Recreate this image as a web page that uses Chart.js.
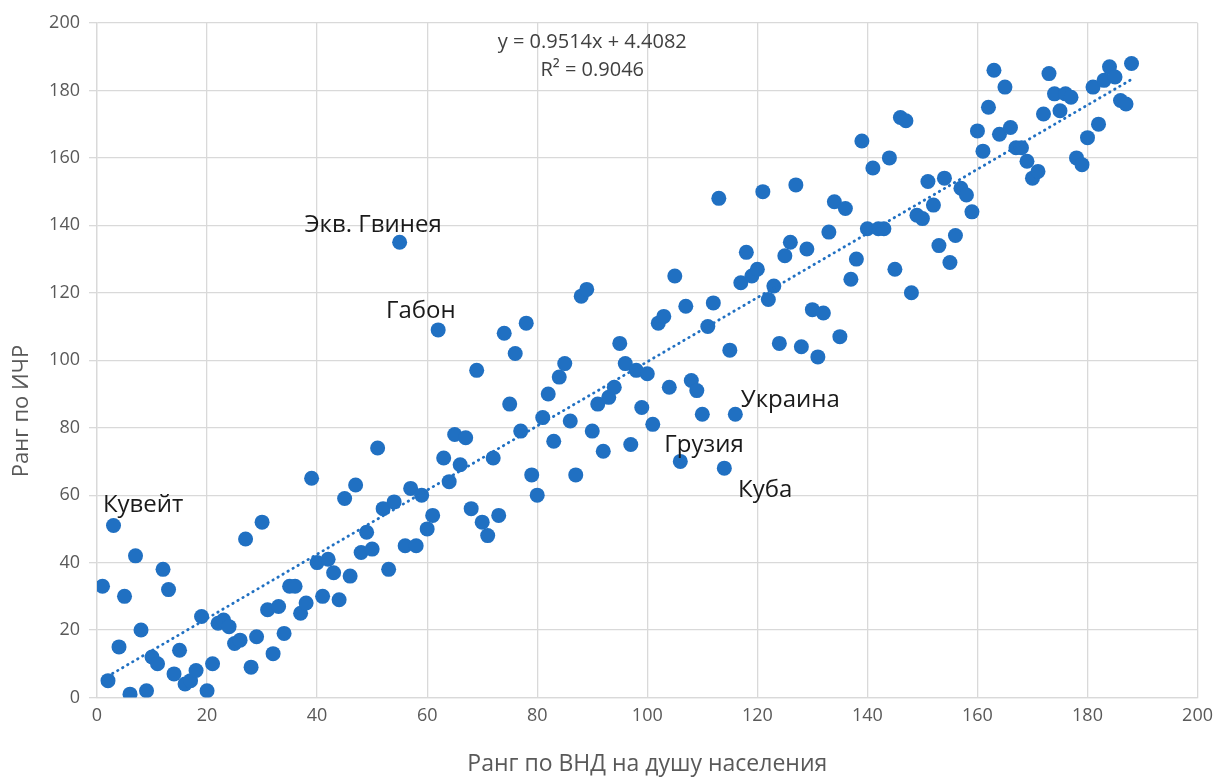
<!DOCTYPE html>
<html>
<head>
<meta charset="utf-8">
<script src="https://cdn.jsdelivr.net/npm/chart.js@4.4.1/dist/chart.umd.min.js"></script>
<style>
  html, body { margin: 0; padding: 0; background: #ffffff; }
  #wrap { width: 1221px; height: 778px; position: relative; }
</style>
</head>
<body>
<div id="wrap"><canvas id="c" width="1221" height="778"></canvas></div>
<script>
// ---- Data ----
const gniRank = [];
for (let i = 1; i <= 188; i++) gniRank.push(i);
const hdiRank = [
  33, 5, 51, 15, 30, 1, 42, 20, 2, 12,
  10, 38, 32, 7, 14, 4, 5, 8, 24, 2,
  10, 22, 23, 21, 16, 17, 47, 9, 18, 52,
  26, 13, 27, 19, 33, 33, 25, 28, 65, 40,
  30, 41, 37, 29, 59, 36, 63, 43, 49, 44,
  74, 56, 38, 58, 135, 45, 62, 45, 60, 50,
  54, 109, 71, 64, 78, 69, 77, 56, 97, 52,
  48, 71, 54, 108, 87, 102, 79, 111, 66, 60,
  83, 90, 76, 95, 99, 82, 66, 119, 121, 79,
  87, 73, 89, 92, 105, 99, 75, 97, 86, 96,
  81, 111, 113, 92, 125, 70, 116, 94, 91, 84,
  110, 117, 148, 68, 103, 84, 123, 132, 125, 127,
  150, 118, 122, 105, 131, 135, 152, 104, 133, 115,
  101, 114, 138, 147, 107, 145, 124, 130, 165, 139,
  157, 139, 139, 160, 127, 172, 171, 120, 143, 142,
  153, 146, 134, 154, 129, 137, 151, 149, 144, 168,
  162, 175, 186, 167, 181, 169, 163, 163, 159, 154,
  156, 173, 185, 179, 174, 179, 178, 160, 158, 166,
  181, 170, 183, 187, 184, 177, 176, 188
];
const xTicks = [0, 20, 40, 60, 80, 100, 120, 140, 160, 180, 200];
const yTicks = [0, 20, 40, 60, 80, 100, 120, 140, 160, 180, 200];
const trendSlope = 0.9514;
const trendIntercept = 4.4082;
const rSquared = 0.9046;
const countryNames = ['Экв. Гвинея', 'Габон', 'Кувейт', 'Украина', 'Грузия', 'Куба'];

// ---- Layout/style (not data) ----
const labelPos = [ // left/baseline, in data units
  { x: 37.7, y: 138.1 },
  { x: 52.5, y: 112.5 },
  { x: 1.07, y: 55.1 },
  { x: 117.0, y: 86.1 },
  { x: 103.1, y: 72.9 },
  { x: 116.5, y: 59.5 }
];
const eqPos = { x: 90.0, y1: 194.4, y2: 186.1 };

const scatterPts = gniRank.map((x, i) => ({ x: x, y: hdiRank[i] }));
const xMinData = Math.min(...gniRank), xMaxData = Math.max(...gniRank);
const trendPts = [xMinData, xMaxData].map(x => ({ x: x, y: trendSlope * x + trendIntercept }));

const BLUE = '#2070C2';
const GRID = '#D9D9D9';
const TICKC = '#595959';
const FONT = "'Open Sans', 'DejaVu Sans', sans-serif";

const overlay = {
  id: 'overlay',
  afterDatasetsDraw(chart) {
    const { ctx, scales: { x, y } } = chart;
    ctx.save();
    // country labels
    ctx.fillStyle = '#1a1a1a';
    ctx.font = "24px " + FONT;
    ctx.textAlign = 'left';
    ctx.textBaseline = 'alphabetic';
    countryNames.forEach((n, i) => {
      ctx.fillText(n, x.getPixelForValue(labelPos[i].x), y.getPixelForValue(labelPos[i].y));
    });
    // equation
    ctx.fillStyle = '#404040';
    ctx.font = "20px " + FONT;
    ctx.textAlign = 'center';
    ctx.textBaseline = 'middle';
    const ex = x.getPixelForValue(eqPos.x);
    ctx.fillText('y = ' + trendSlope.toFixed(4) + 'x + ' + trendIntercept.toFixed(4), ex, y.getPixelForValue(eqPos.y1));
    ctx.fillText('R² = ' + rSquared.toFixed(4), ex, y.getPixelForValue(eqPos.y2));
    // y axis title (offset below centre as in reference)
    ctx.fillStyle = TICKC;
    ctx.font = "22px " + FONT;
    ctx.translate(22, 411);
    ctx.rotate(-Math.PI / 2);
    ctx.textAlign = 'center';
    ctx.textBaseline = 'middle';
    ctx.fillText('Ранг по ИЧР', 0, 0);
    ctx.restore();
  }
};

new Chart(document.getElementById('c'), {
  type: 'scatter',
  data: {
    datasets: [
      {
        label: 'Ранг',
        data: scatterPts,
        backgroundColor: BLUE,
        borderColor: BLUE,
        borderWidth: 0,
        pointRadius: 7.5,
        pointHoverRadius: 7.5,
        order: 2
      },
      {
        type: 'line',
        label: 'Тренд',
        data: trendPts,
        borderColor: BLUE,
        borderWidth: 2.8,
        borderDash: [0.5, 5.3],
        borderCapStyle: 'round',
        pointRadius: 0,
        fill: false,
        order: 1
      }
    ]
  },
  options: {
    responsive: false,
    animation: false,
    layout: { padding: { left: 0, right: 20, top: 23, bottom: 0 } },
    plugins: {
      legend: { display: false },
      tooltip: { enabled: false }
    },
    scales: {
      x: {
        type: 'linear',
        min: 0, max: 200,
        afterBuildTicks(s) { s.ticks = xTicks.map(v => ({ value: v })); },
        grid: { color: GRID, lineWidth: 1.3, drawTicks: false },
        border: { color: GRID, width: 1.3 },
        ticks: { color: TICKC, font: { family: FONT, size: 18 }, padding: 8, maxRotation: 0 },
        title: { display: true, text: 'Ранг по ВНД на душу населения', color: TICKC, font: { family: FONT, size: 23 }, padding: { top: 12, bottom: 0 } },
        afterFit(s) { s.height = 80.5; }
      },
      y: {
        type: 'linear',
        min: 0, max: 200,
        afterBuildTicks(s) { s.ticks = yTicks.map(v => ({ value: v })); },
        grid: { color: GRID, lineWidth: 1.3, drawTicks: true, tickLength: 8 },
        border: { color: GRID, width: 1.3 },
        ticks: { color: TICKC, font: { family: FONT, size: 18 }, padding: 9 },
        afterFit(s) { s.width = 97; }
      }
    }
  },
  plugins: [overlay]
});
</script>
</body>
</html>
